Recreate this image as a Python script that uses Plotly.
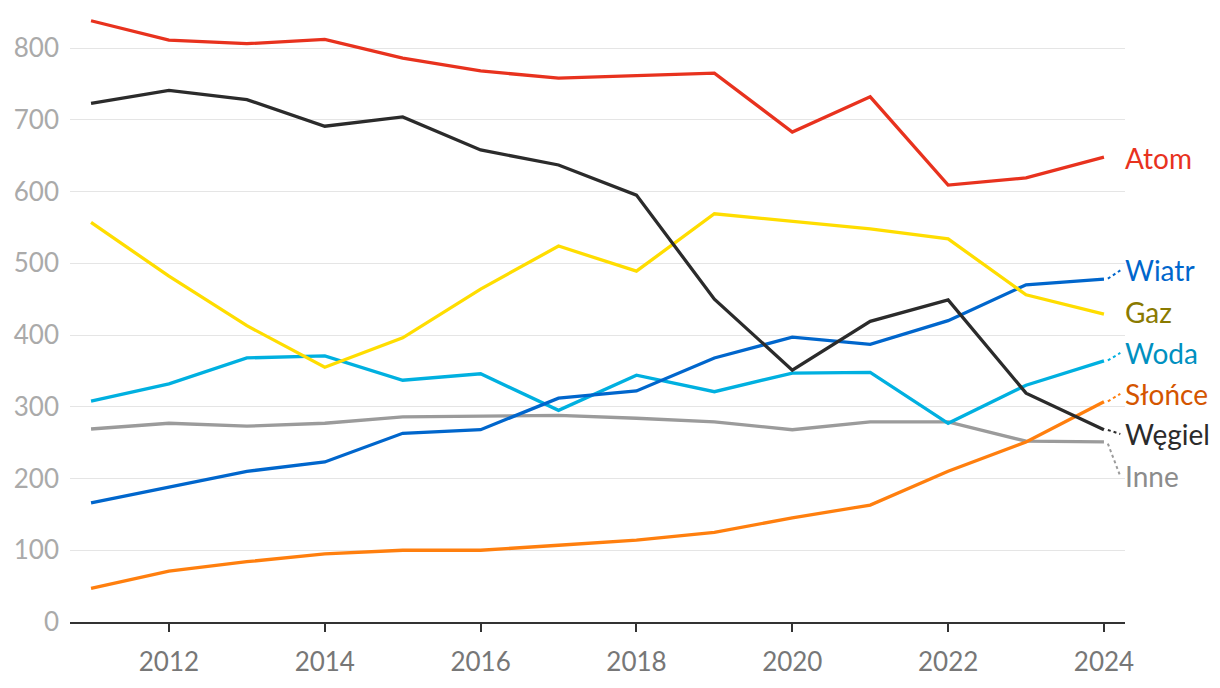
import plotly.graph_objects as go

years = list(range(2011, 2025))

atom   = [838, 811, 806, 812, 786, 768, 758, 761, 765, 683, 732, 609, 619, 648]
wegiel = [723, 741, 728, 691, 704, 658, 637, 595, 450, 351, 419, 449, 319, 268]
gaz    = [557, 482, 413, 355, 396, 464, 524, 489, 569, 559, 548, 534, 456, 429]
wiatr  = [166, 188, 210, 223, 263, 268, 312, 322, 368, 397, 387, 420, 470, 478]
woda   = [308, 332, 368, 371, 337, 346, 295, 344, 321, 347, 348, 277, 330, 364]
inne   = [269, 277, 273, 277, 286, 287, 288, 284, 279, 268, 279, 279, 252, 251]
slonce = [47, 71, 84, 95, 100, 100, 107, 114, 125, 145, 163, 210, 251, 307]

series = [
    # name, values, line colour, label colour, label y
    ("Inne", inne, "#9b9b9b", "#8c8c8c", 203),
    ("Słońce", slonce, "#ff7f0e", "#d45500", 318),
    ("Woda", woda, "#00b0e0", "#0090c0", 375),
    ("Wiatr", wiatr, "#0066cc", "#0066cc", 490),
    ("Gaz", gaz, "#ffdd00", "#8a7a00", 432),
    ("Węgiel", wegiel, "#2b2b2b", "#2b2b2b", 262),
    ("Atom", atom, "#e8321e", "#e8321e", 647),
]

fig = go.Figure()
annotations = []
for name, vals, lc, tc, ly in series:
    fig.add_trace(go.Scatter(x=years, y=vals, mode="lines",
                             line=dict(color=lc, width=3.3),
                             hoverinfo="skip", showlegend=False))
    if abs(ly - vals[-1]) > 4:
        fig.add_trace(go.Scatter(x=[years[-1] + 0.05, years[-1] + 0.21],
                                 y=[vals[-1] + (ly - vals[-1]) * 0.05, ly],
                                 mode="lines", cliponaxis=False,
                                 line=dict(color=lc, width=2, dash="dot"),
                                 hoverinfo="skip", showlegend=False))
    annotations.append(dict(x=years[-1] + 0.24, y=ly, xref="x", yref="y",
                            text=name, showarrow=False, xanchor="left",
                            yanchor="middle",
                            font=dict(family="Lato", size=28, color=tc)))

fig.update_layout(
    width=1220, height=688,
    margin=dict(l=62, r=103, t=2, b=74),
    plot_bgcolor="white", paper_bgcolor="white",
    font=dict(family="Lato", size=26),
    annotations=annotations,
    xaxis=dict(range=[2010.73, 2024.27], tickmode="array",
               tickvals=[2012, 2014, 2016, 2018, 2020, 2022, 2024],
               showgrid=False, showline=True, linecolor="#333333",
               linewidth=2, ticks="outside", ticklen=8, tickwidth=2,
               tickcolor="#333333", ticklabelstandoff=8,
               tickfont=dict(family="Lato", size=26, color="#777777"),
               zeroline=False),
    yaxis=dict(range=[0, 853], tickvals=[0, 100, 200, 300, 400, 500, 600, 700, 800],
               showgrid=True, gridcolor="#e5e5e5", gridwidth=1.3,
               zeroline=False, showline=False, ticks="",
               ticklabelstandoff=10,
               tickfont=dict(family="Lato", size=26, color="#aaaaaa")),
)

fig.write_html("out.html")
